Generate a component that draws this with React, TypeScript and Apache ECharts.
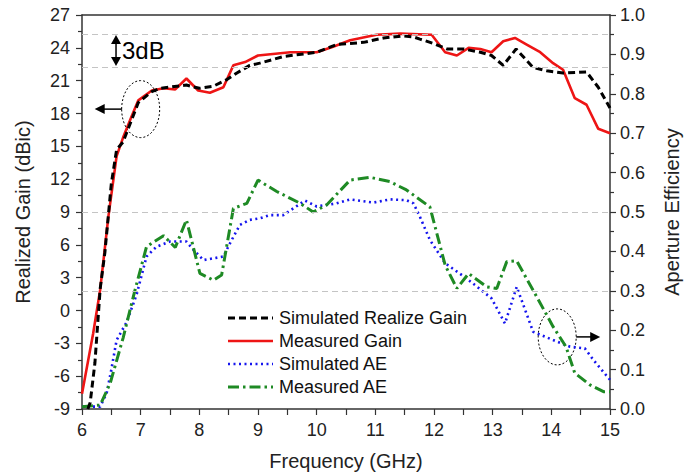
import React, { useEffect, useRef } from "react";
import * as echarts from "echarts";

// Measured Gain (dBic)
const FREQ_MG = [6.0, 6.19, 6.31, 6.45, 6.59, 6.7, 6.85, 6.96, 7.19, 7.39, 7.59, 7.78, 7.98, 8.18, 8.41, 8.58, 8.78, 9.0, 9.55, 10.0, 10.28, 10.57, 11.02, 11.42, 11.96, 12.19, 12.39, 12.59, 12.79, 12.98, 13.18, 13.38, 13.58, 13.81, 14.03, 14.2, 14.4, 14.6, 14.8, 15.0];
const GAIN_MG = [-7.6, -2.1, 1.9, 8.6, 14.1, 15.8, 17.8, 19.2, 20.1, 20.3, 20.2, 21.2, 20.1, 19.9, 20.4, 22.4, 22.7, 23.3, 23.6, 23.6, 24.1, 24.7, 25.2, 25.3, 25.2, 23.6, 23.3, 24.0, 23.9, 23.6, 24.6, 24.9, 24.3, 23.6, 22.6, 22.0, 19.4, 18.8, 16.6, 16.2];

// Simulated Realize Gain (dBic)
const FREQ_SG = [6.1, 6.14, 6.22, 6.31, 6.39, 6.5, 6.59, 6.7, 6.96, 7.19, 7.33, 7.78, 8.0, 8.24, 8.47, 8.64, 8.86, 9.03, 9.43, 10.0, 10.34, 10.8, 11.14, 11.48, 11.65, 11.76, 11.99, 12.22, 12.5, 12.79, 12.98, 13.18, 13.4, 13.69, 13.92, 14.2, 14.6, 14.8, 15.0];
const GAIN_SG = [-9.0, -8.4, -4.8, 2.0, 5.3, 11.6, 14.7, 15.4, 19.0, 20.0, 20.3, 20.6, 20.3, 20.5, 21.1, 21.7, 22.4, 22.6, 23.2, 23.6, 24.3, 24.5, 24.9, 25.1, 25.0, 24.8, 24.4, 23.9, 23.9, 23.6, 23.3, 22.4, 23.9, 22.2, 21.9, 21.7, 21.8, 20.4, 18.5];

// Simulated AE
const FREQ_SAE = [6.0, 6.31, 6.42, 6.5, 6.59, 6.76, 6.93, 7.1, 7.27, 7.5, 7.78, 7.9, 8.07, 8.41, 8.52, 8.69, 8.86, 9.03, 9.2, 9.43, 9.8, 10.0, 10.34, 10.57, 10.97, 11.25, 11.53, 11.65, 11.76, 11.93, 12.19, 12.55, 12.98, 13.21, 13.41, 13.69, 14.03, 14.32, 14.57, 14.72, 15.0];
const AE_SIM = [0.006, 0.006, 0.04, 0.1, 0.175, 0.22, 0.29, 0.387, 0.412, 0.425, 0.425, 0.404, 0.378, 0.387, 0.42, 0.467, 0.48, 0.484, 0.492, 0.492, 0.529, 0.514, 0.522, 0.532, 0.524, 0.532, 0.53, 0.522, 0.488, 0.429, 0.37, 0.332, 0.281, 0.217, 0.31, 0.196, 0.175, 0.158, 0.154, 0.124, 0.074];

// Measured AE
const FREQ_MAE = [6.0, 6.31, 6.48, 6.7, 6.9, 7.1, 7.39, 7.59, 7.78, 8.01, 8.24, 8.38, 8.58, 8.81, 9.0, 9.32, 9.72, 9.94, 10.17, 10.57, 10.91, 11.25, 11.53, 11.93, 12.19, 12.39, 12.59, 12.9, 13.07, 13.24, 13.41, 13.75, 14.03, 14.25, 14.4, 14.66, 14.89, 15.0];
const AE_MEAS = [0.006, 0.01, 0.065, 0.18, 0.3, 0.412, 0.44, 0.41, 0.48, 0.344, 0.327, 0.34, 0.509, 0.522, 0.581, 0.552, 0.522, 0.5, 0.518, 0.581, 0.588, 0.577, 0.556, 0.513, 0.365, 0.306, 0.344, 0.31, 0.306, 0.374, 0.376, 0.285, 0.209, 0.158, 0.091, 0.061, 0.044, 0.044];

// Reference lines
const GAIN_REF = [25.26, 22.25];
const AE_REF = [0.5, 0.3];

const LEGEND_NAMES = ["Simulated Realize Gain", "Measured Gain", "Simulated AE", "Measured AE"];

const FONT = "'Liberation Sans', Arial, Helvetica, sans-serif";
const zip = (xs: number[], ys: number[]) => xs.map((x, i) => [x, ys[i]]);

const STYLES = [
  { color: "#000", width: 3, dash: [7, 4] as number[] | null },
  { color: "#ee1515", width: 2.6, dash: null },
  { color: "#1515ee", width: 2.6, dash: [2, 3.5] },
  { color: "#1e8a24", width: 3, dash: [11, 4, 2.5, 4] },
];

export default function App() {
  const ref = useRef<HTMLDivElement>(null);
  useEffect(() => {
    if (!ref.current) return;
    const chart = echarts.init(ref.current, undefined, { renderer: "svg" });
    const axisLine = { show: true, onZero: false, lineStyle: { color: "#333", width: 1.5 } };
    const refLine = (vals: number[]) => ({
      silent: true,
      symbol: "none",
      label: { show: false },
      lineStyle: { color: "#c4c4c4", type: [6, 4], width: 1 },
      data: vals.map((v) => ({ yAxis: v })),
    });
    const ls = (i: number) => ({
      color: STYLES[i].color,
      width: STYLES[i].width,
      type: STYLES[i].dash ?? "solid",
    });
    chart.setOption({
      animation: false,
      textStyle: { fontFamily: FONT },
      grid: { left: 82, right: 79, top: 15, bottom: 65, outerBoundsMode: "none", containLabel: false },
      xAxis: [
        {
          type: "value",
          min: 6,
          max: 15,
          interval: 1,
          name: "Frequency (GHz)",
          nameLocation: "middle",
          nameGap: 42,
          nameTextStyle: { fontSize: 20, color: "#222" },
          axisLine,
          axisTick: { length: 6, lineStyle: { color: "#333", width: 1.2 } },
          minorTick: { show: true, splitNumber: 2, length: 6, lineStyle: { color: "#333", width: 1.2 } },
          axisLabel: { fontSize: 18, color: "#222", margin: 12 },
          splitLine: { show: false },
        },
        {
          type: "value",
          position: "top",
          min: 6,
          max: 15,
          axisLine,
          axisTick: { show: false },
          axisLabel: { show: false },
          splitLine: { show: false },
        },
      ],
      yAxis: [
        {
          type: "value",
          min: -9,
          max: 27,
          interval: 3,
          name: "Realized Gain (dBic)",
          nameLocation: "middle",
          nameGap: 49,
          nameTextStyle: { fontSize: 20, color: "#222" },
          axisLine,
          axisTick: { length: 6, lineStyle: { color: "#333", width: 1.2 } },
          minorTick: { show: true, splitNumber: 2, length: 4, lineStyle: { color: "#333", width: 1.2 } },
          axisLabel: { fontSize: 18, color: "#222", margin: 12 },
          splitLine: { show: false },
        },
        {
          type: "value",
          min: 0,
          max: 1,
          interval: 0.1,
          name: "Aperture Efficiency",
          nameLocation: "middle",
          nameGap: 52,
          nameRotate: 90,
          nameTextStyle: { fontSize: 20, color: "#222" },
          axisLine,
          axisTick: { length: 6, lineStyle: { color: "#333", width: 1.2 } },
          minorTick: { show: true, splitNumber: 2, length: 4, lineStyle: { color: "#333", width: 1.2 } },
          axisLabel: { fontSize: 18, color: "#222", margin: 10, formatter: (v: number) => v.toFixed(1) },
          splitLine: { show: false },
        },
      ],
      series: [
        {
          name: LEGEND_NAMES[0],
          type: "line",
          yAxisIndex: 0,
          symbol: "none",
          data: zip(FREQ_SG, GAIN_SG),
          lineStyle: ls(0),
          markLine: refLine(GAIN_REF),
          z: 3,
        },
        {
          name: LEGEND_NAMES[1],
          type: "line",
          yAxisIndex: 0,
          symbol: "none",
          data: zip(FREQ_MG, GAIN_MG),
          lineStyle: ls(1),
          z: 2,
        },
        {
          name: LEGEND_NAMES[2],
          type: "line",
          yAxisIndex: 1,
          symbol: "none",
          data: zip(FREQ_SAE, AE_SIM),
          lineStyle: ls(2),
          markLine: refLine(AE_REF),
          z: 2,
        },
        {
          name: LEGEND_NAMES[3],
          type: "line",
          yAxisIndex: 1,
          symbol: "none",
          data: zip(FREQ_MAE, AE_MEAS),
          lineStyle: ls(3),
          z: 2,
        },
      ],
    });

    // annotations positioned via axis conversion
    const px = (f: number, v: number, yi: number) =>
      chart.convertToPixel({ xAxisIndex: 0, yAxisIndex: yi } as any, [f, v]) as number[];
    const top3 = px(6.58, GAIN_REF[0], 0);
    const bot3 = px(6.58, GAIN_REF[1], 0);
    const lc = px(7.0, 18.4, 0);
    const rc = px(14.1, 0.183, 1);
    const ax = top3[0];
    const head = 5;
    const stroke = { stroke: "#000", lineWidth: 1.5 };

    const legendItems: any[] = [];
    const lx = 228;
    const ly0 = 318;
    const rowH = 23;
    LEGEND_NAMES.forEach((name, i) => {
      const y = ly0 + i * rowH;
      legendItems.push({
        type: "line",
        shape: { x1: lx, y1: y, x2: lx + 45, y2: y },
        style: { stroke: STYLES[i].color, lineWidth: STYLES[i].width, lineDash: STYLES[i].dash ?? undefined },
        z: 10,
      });
      legendItems.push({
        type: "text",
        x: lx + 51,
        y,
        style: { text: name, fontSize: 18, fontFamily: FONT, fill: "#111", verticalAlign: "middle" },
        z: 10,
      });
    });

    chart.setOption({
      graphic: [
        { type: "line", shape: { x1: ax, y1: top3[1] + 8, x2: ax, y2: bot3[1] - 8 }, style: stroke },
        { type: "polygon", shape: { points: [[ax, top3[1] + 1], [ax - head, top3[1] + 10], [ax + head, top3[1] + 10]] }, style: { fill: "#000" } },
        { type: "polygon", shape: { points: [[ax, bot3[1] - 1], [ax - head, bot3[1] - 10], [ax + head, bot3[1] - 10]] }, style: { fill: "#000" } },
        { type: "text", x: ax + 6, y: (top3[1] + bot3[1]) / 2, style: { text: "3dB", fontSize: 24, fontFamily: FONT, fill: "#000", verticalAlign: "middle" } },
        { type: "ellipse", shape: { cx: lc[0], cy: lc[1], rx: 19, ry: 28.5 }, style: { fill: "none", stroke: "#000", lineWidth: 1, lineDash: [2, 2] } },
        { type: "line", shape: { x1: lc[0] - 19, y1: lc[1], x2: lc[0] - 38, y2: lc[1] }, style: stroke },
        { type: "polygon", shape: { points: [[lc[0] - 46, lc[1]], [lc[0] - 36, lc[1] - 5], [lc[0] - 36, lc[1] + 5]] }, style: { fill: "#000" } },
        { type: "ellipse", shape: { cx: rc[0], cy: rc[1], rx: 19, ry: 28 }, style: { fill: "none", stroke: "#000", lineWidth: 1, lineDash: [2, 2] } },
        { type: "line", shape: { x1: rc[0] + 19, y1: rc[1], x2: rc[0] + 35, y2: rc[1] }, style: stroke },
        { type: "polygon", shape: { points: [[rc[0] + 43, rc[1]], [rc[0] + 33, rc[1] - 5], [rc[0] + 33, rc[1] + 5]] }, style: { fill: "#000" } },
        ...legendItems,
      ],
    });
    return () => chart.dispose();
  }, []);
  return <div ref={ref} style={{ width: 689, height: 474, position: "absolute", left: 0, top: 0, background: "#fff" }} />;
}
